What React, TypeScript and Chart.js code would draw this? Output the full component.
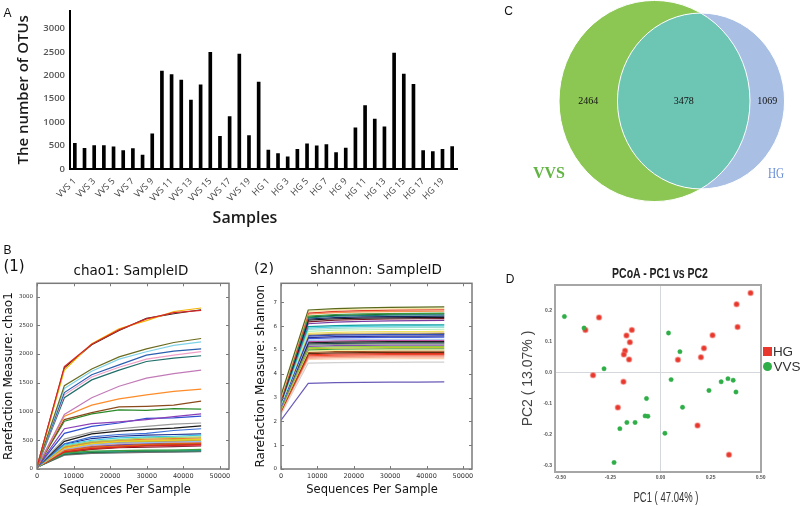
import React, { useEffect, useRef } from 'react';
import { Chart, registerables } from 'chart.js';

Chart.register(...registerables);

// ---------- Panel A : OTU counts per sample ----------
const sampleLabels = [
  'VVS 1', 'VVS 2', 'VVS 3', 'VVS 4', 'VVS 5', 'VVS 6', 'VVS 7', 'VVS 8', 'VVS 9', 'VVS 10',
  'VVS 11', 'VVS 12', 'VVS 13', 'VVS 14', 'VVS 15', 'VVS 16', 'VVS 17', 'VVS 18', 'VVS 19', 'VVS 20',
  'HG 1', 'HG 2', 'HG 3', 'HG 4', 'HG 5', 'HG 6', 'HG 7', 'HG 8', 'HG 9', 'HG 10',
  'HG 11', 'HG 12', 'HG 13', 'HG 14', 'HG 15', 'HG 16', 'HG 17', 'HG 18', 'HG 19', 'HG 20',
];
const otuCounts = [
  550, 440, 500, 500, 475, 395, 435, 295, 750, 2090,
  2015, 1900, 1470, 1795, 2490, 700, 1120, 2455, 715, 1855,
  405, 330, 260, 420, 535, 495, 520, 350, 445, 880,
  1355, 1065, 900, 2475, 2025, 1810, 395, 370, 420, 480,
];
const otuTicks = [0, 500, 1000, 1500, 2000, 2500, 3000];

// ---------- Panel B : rarefaction curves ----------
const depthSteps = [10, 7480, 14960, 22440, 29920, 37400, 44880];
const depthTicks = [0, 10000, 20000, 30000, 40000, 50000];
const chao1Ticks = [0, 500, 1000, 1500, 2000, 2500, 3000];
const shannonTicks = [0, 1, 2, 3, 4, 5, 6, 7];
const chao1Curves = [
  [40, 1780, 2170, 2420, 2610, 2720, 2760],
  [40, 1720, 2180, 2440, 2580, 2740, 2800],
  [40, 1760, 2160, 2410, 2620, 2700, 2770],
  [35, 1450, 1740, 1950, 2090, 2200, 2270],
  [35, 1400, 1700, 1910, 2040, 2150, 2210],
  [35, 1330, 1640, 1810, 1980, 2050, 2090],
  [35, 1290, 1600, 1770, 1910, 1980, 2040],
  [35, 1240, 1550, 1720, 1870, 1930, 1970],
  [30, 950, 1240, 1440, 1580, 1660, 1720],
  [30, 920, 1110, 1220, 1290, 1350, 1390],
  [30, 860, 980, 1080, 1090, 1110, 1180],
  [30, 830, 960, 1030, 1020, 1050, 1040],
  [30, 700, 790, 820, 860, 910, 960],
  [30, 620, 740, 800, 880, 890, 920],
  [30, 520, 640, 700, 740, 780, 800],
  [30, 480, 610, 660, 690, 710, 750],
  [30, 440, 560, 600, 620, 670, 700],
  [30, 420, 500, 540, 560, 570, 590],
  [30, 400, 480, 510, 540, 550, 560],
  [30, 380, 470, 500, 520, 530, 540],
  [30, 360, 440, 480, 490, 500, 510],
  [30, 370, 450, 470, 480, 490, 500],
  [30, 350, 420, 450, 460, 470, 480],
  [30, 340, 410, 440, 460, 465, 470],
  [30, 320, 380, 400, 430, 440, 450],
  [30, 300, 360, 380, 400, 410, 420],
  [30, 290, 350, 380, 410, 420, 440],
  [30, 310, 370, 390, 400, 405, 410],
  [30, 280, 310, 320, 330, 330, 340],
  [30, 270, 300, 310, 320, 325, 330],
  [30, 260, 290, 300, 310, 315, 320],
  [30, 240, 270, 280, 290, 295, 300],
  [30, 250, 280, 290, 300, 300, 305],
  [30, 330, 390, 420, 440, 450, 455],
  [30, 430, 530, 570, 590, 600, 610],
  [30, 390, 460, 490, 500, 510, 520],
  [30, 300, 380, 410, 420, 430, 430],
  [30, 360, 430, 460, 470, 475, 480],
  [30, 340, 400, 430, 450, 455, 460],
  [30, 280, 340, 370, 380, 390, 400],
];
const chao1Colors = [
  '#d62728', '#f5b400', '#3a2a1a', '#6b6b1f', '#7fd3e8', '#2b5fb0', '#f0a0c8', '#1f6f6a',
  '#c27bb8', '#ff8c2a', '#8b4a1c', '#2a8a2a', '#8a3fb8', '#3050d0', '#9a9a9a', '#1a1a1a',
  '#3a6fd8', '#3ec8e8', '#9ed36a', '#f08030', '#f0d020', '#a8a040', '#90c0f0', '#f09080',
  '#e06010', '#e02020', '#a05020', '#e070a0', '#40a040', '#20a0a0', '#206020', '#707070',
  '#30c0d0', '#7050b0', '#203090', '#b8d840', '#c03030', '#b090e0', '#d0b080', '#801818',
];
const shannonCurves = [
  [3.1, 6.68, 6.74, 6.77, 6.79, 6.8, 6.81],
  [3.0, 6.62, 6.68, 6.71, 6.73, 6.74, 6.75],
  [2.9, 6.55, 6.62, 6.65, 6.67, 6.68, 6.69],
  [3.0, 6.5, 6.57, 6.6, 6.61, 6.62, 6.63],
  [2.95, 6.42, 6.49, 6.52, 6.53, 6.54, 6.55],
  [2.9, 6.35, 6.42, 6.44, 6.46, 6.47, 6.47],
  [2.85, 6.3, 6.36, 6.39, 6.4, 6.41, 6.42],
  [2.9, 6.25, 6.31, 6.34, 6.35, 6.36, 6.37],
  [2.8, 6.18, 6.25, 6.28, 6.3, 6.31, 6.32],
  [2.85, 6.1, 6.17, 6.2, 6.22, 6.23, 6.24],
  [2.8, 5.98, 6.02, 6.04, 6.05, 6.05, 6.06],
  [2.75, 5.92, 5.97, 5.99, 6.0, 6.01, 6.01],
  [2.8, 5.86, 5.91, 5.93, 5.94, 5.95, 5.95],
  [2.7, 5.78, 5.83, 5.85, 5.86, 5.86, 5.87],
  [2.75, 5.7, 5.74, 5.76, 5.77, 5.77, 5.78],
  [2.7, 5.65, 5.69, 5.7, 5.71, 5.71, 5.72],
  [2.65, 5.58, 5.62, 5.63, 5.64, 5.64, 5.65],
  [2.7, 5.52, 5.56, 5.57, 5.58, 5.58, 5.59],
  [2.65, 5.48, 5.51, 5.52, 5.53, 5.53, 5.54],
  [2.6, 5.4, 5.43, 5.44, 5.45, 5.45, 5.45],
  [2.65, 5.3, 5.33, 5.34, 5.35, 5.35, 5.35],
  [2.6, 5.25, 5.28, 5.29, 5.3, 5.3, 5.3],
  [2.55, 5.2, 5.23, 5.24, 5.25, 5.25, 5.25],
  [2.6, 5.15, 5.18, 5.19, 5.2, 5.2, 5.2],
  [2.55, 5.1, 5.13, 5.14, 5.15, 5.15, 5.15],
  [2.5, 5.05, 5.08, 5.09, 5.1, 5.1, 5.1],
  [2.55, 5.0, 5.03, 5.04, 5.05, 5.05, 5.05],
  [2.5, 4.95, 4.98, 4.99, 5.0, 5.0, 5.0],
  [2.45, 4.9, 4.93, 4.94, 4.95, 4.95, 4.95],
  [2.5, 4.85, 4.88, 4.89, 4.9, 4.9, 4.9],
  [2.45, 4.8, 4.83, 4.84, 4.85, 4.85, 4.85],
  [2.4, 4.75, 4.78, 4.79, 4.8, 4.8, 4.8],
  [2.45, 4.7, 4.73, 4.74, 4.75, 4.75, 4.75],
  [2.4, 4.65, 4.68, 4.69, 4.7, 4.7, 4.7],
  [2.35, 4.6, 4.62, 4.63, 4.63, 4.64, 4.64],
  [2.3, 4.45, 4.47, 4.48, 4.48, 4.49, 4.49],
  [2.05, 3.6, 3.63, 3.64, 3.65, 3.65, 3.66],
  [2.9, 6.38, 6.45, 6.48, 6.5, 6.51, 6.52],
  [2.7, 5.62, 5.66, 5.67, 5.68, 5.68, 5.69],
  [2.6, 5.35, 5.38, 5.39, 5.4, 5.4, 5.4],
];
const shannonColors = [
  '#5a6a1a', '#f3e3a0', '#e0402a', '#f59050', '#3a9a3a', '#1a7a7a', '#1a2a6a', '#1a1a1a',
  '#7a1a2a', '#7a3aa0', '#10a0a0', '#50d0e0', '#a0e0d0', '#b0f0c0', '#f0e060', '#d8b878',
  '#3050c0', '#303090', '#4060e0', '#a0c0f0', '#202020', '#205050', '#909090', '#8050b0',
  '#90d040', '#c0c030', '#40a040', '#f8f0a0', '#a05020', '#603010', '#e03020', '#f05030',
  '#f08070', '#f8b090', '#fcd0b0', '#d0d0d0', '#6a5ab8', '#1a5a1a', '#1a2040', '#c050a0',
];

// ---------- Panel C : Venn diagram ----------
const vennNames = ['VVS', 'HG'];
const vennOnlyCounts = [2464, 1069];
const vennSharedCount = 3478;
const vennColors = ['#8cc653', '#a9bfe4', '#6dc5b3'];

// ---------- Panel D : PCoA ----------
const hgPC1 = [-0.307, -0.375, -0.17, -0.143, -0.153, -0.177, -0.183, -0.157, -0.337, -0.185,
  -0.213, 0.45, 0.38, 0.385, 0.26, 0.217, 0.202, 0.087, 0.185, 0.342];
const hgPC2 = [0.177, 0.137, 0.119, 0.137, 0.097, 0.07, 0.058, 0.042, -0.009, -0.03,
  -0.113, 0.256, 0.22, 0.146, 0.12, 0.078, 0.049, 0.041, -0.171, -0.265];
const vvsPC1 = [-0.48, -0.382, -0.282, -0.07, -0.077, -0.063, -0.168, -0.127, -0.203, -0.232,
  0.022, 0.04, 0.097, 0.053, 0.11, 0.242, 0.303, 0.337, 0.363, 0.377];
const vvsPC2 = [0.18, 0.143, 0.012, -0.084, -0.14, -0.141, -0.161, -0.161, -0.181, -0.29,
  -0.196, 0.127, 0.067, -0.023, -0.112, -0.058, -0.03, -0.02, -0.025, -0.063];
const pc1Ticks = [-0.5, -0.25, 0, 0.25, 0.5];
const pc2Ticks = [-0.3, -0.2, -0.1, 0, 0.1, 0.2];

const fixedTicks = (vals: number[]) => (s: any) => {
  s.ticks = vals.map((v) => ({ value: v }));
};

function framePlugin(color: string, width: number, tickLen: number) {
  return {
    id: 'frame',
    afterDatasetsDraw(chart: any) {
      const { ctx, chartArea: a } = chart;
      const sx = chart.scales.x;
      const sy = chart.scales.y;
      ctx.save();
      ctx.strokeStyle = color;
      if (tickLen > 0) {
        ctx.lineWidth = 1;
        ctx.beginPath();
        sx.ticks.forEach((t: any) => {
          const p = Math.round(sx.getPixelForValue(t.value)) + 0.5;
          ctx.moveTo(p, a.bottom);
          ctx.lineTo(p, a.bottom - tickLen);
          ctx.moveTo(p, a.top);
          ctx.lineTo(p, a.top + tickLen);
        });
        sy.ticks.forEach((t: any) => {
          const p = Math.round(sy.getPixelForValue(t.value)) + 0.5;
          ctx.moveTo(a.left, p);
          ctx.lineTo(a.left + tickLen, p);
          ctx.moveTo(a.right, p);
          ctx.lineTo(a.right - tickLen, p);
        });
        ctx.stroke();
      }
      ctx.lineWidth = width;
      ctx.strokeRect(a.left, a.top, a.right - a.left, a.bottom - a.top);
      ctx.restore();
    },
  };
}

const vennPlugin = {
  id: 'venn',
  beforeDatasetsDraw(chart: any) {
    const { ctx } = chart;
    const sx = chart.scales.x;
    const sy = chart.scales.y;
    const ds = chart.data.datasets[0].data as any[];
    const ell = (c: any) => {
      const cx = sx.getPixelForValue(c.x);
      const cy = sy.getPixelForValue(c.y);
      const rx = sx.getPixelForValue(c.x + c.r) - cx;
      const ry = cy - sy.getPixelForValue(c.y + c.r);
      ctx.beginPath();
      ctx.ellipse(cx, cy, rx, ry, 0, 0, Math.PI * 2);
    };
    ctx.save();
    ell(ds[0]); ctx.fillStyle = vennColors[0]; ctx.fill();
    ell(ds[1]); ctx.fillStyle = vennColors[1]; ctx.fill();
    ctx.save();
    ell(ds[0]); ctx.clip();
    ell(ds[1]); ctx.fillStyle = vennColors[2]; ctx.fill();
    ctx.restore();
    ctx.strokeStyle = '#ffffff';
    ctx.lineWidth = 1;
    ell(ds[0]); ctx.stroke();
    ell(ds[1]); ctx.stroke();
    const leftA = ds[0].x - ds[0].r, rightA = ds[0].x + ds[0].r;
    const leftB = ds[1].x - ds[1].r, rightB = ds[1].x + ds[1].r;
    const yPx = sy.getPixelForValue(ds[0].y);
    ctx.fillStyle = '#111';
    ctx.font = '10px "Liberation Serif"';
    ctx.textAlign = 'center';
    ctx.textBaseline = 'middle';
    ctx.fillText(String(ds[0].only), sx.getPixelForValue((leftA + leftB) / 2), yPx);
    ctx.fillText(String(vennSharedCount), sx.getPixelForValue((leftB + rightA) / 2), yPx);
    ctx.fillText(String(ds[1].only), sx.getPixelForValue((rightA + rightB) / 2), yPx);
    ctx.restore();
  },
};

function lensArea(d: number, r1: number, r2: number) {
  if (d >= r1 + r2) return 0;
  if (d <= Math.abs(r1 - r2)) return Math.PI * Math.min(r1, r2) ** 2;
  const a1 = Math.acos((d * d + r1 * r1 - r2 * r2) / (2 * d * r1));
  const a2 = Math.acos((d * d + r2 * r2 - r1 * r1) / (2 * d * r2));
  const k = Math.sqrt((-d + r1 + r2) * (d + r1 - r2) * (d - r1 + r2) * (d + r1 + r2));
  return r1 * r1 * a1 + r2 * r2 * a2 - 0.5 * k;
}

const Txt = (p: any) => (
  <div
    style={{
      position: 'absolute',
      left: p.x,
      top: p.y,
      transform: `translate(-50%, -50%) scaleX(${p.sx ?? 1})`,
      fontSize: p.s,
      fontFamily: p.f ?? '"Liberation Sans", Arial, sans-serif',
      fontWeight: p.w ?? 'normal',
      color: p.c ?? '#111',
      whiteSpace: 'nowrap',
      lineHeight: 1,
    }}
  >
    {p.children}
  </div>
);

export default function App() {
  const aRef = useRef<HTMLCanvasElement>(null);
  const b1Ref = useRef<HTMLCanvasElement>(null);
  const b2Ref = useRef<HTMLCanvasElement>(null);
  const cRef = useRef<HTMLCanvasElement>(null);
  const dRef = useRef<HTMLCanvasElement>(null);

  useEffect(() => {
    const charts: Chart[] = [];
    const noPlug = { legend: { display: false }, tooltip: { enabled: false }, title: { display: false } };

    // Panel A
    charts.push(new Chart(aRef.current!, {
      type: 'bar',
      data: {
        labels: sampleLabels,
        datasets: [{ data: otuCounts, backgroundColor: '#000', barThickness: 3 }],
      },
      options: {
        animation: false,
        responsive: false,
        layout: { padding: { top: 5, right: 23, left: 0, bottom: 0 } },
        plugins: noPlug as any,
        scales: {
          x: {
            grid: { display: false, drawTicks: false },
            border: { display: true, color: '#000', width: 2 },
            ticks: {
              autoSkip: false, minRotation: 45, maxRotation: 45, padding: 7,
              font: { family: '"Open Sans"', size: 9 }, color: '#444',
              callback: (_v: any, i: number) => (i % 2 === 0 ? sampleLabels[i] : ''),
            },
            afterFit: (s: any) => { s.height = 63; },
          },
          y: {
            min: 0, max: 3380,
            grid: { display: false, drawTicks: false },
            border: { display: true, color: '#000', width: 2 },
            afterBuildTicks: fixedTicks(otuTicks),
            ticks: {
              padding: 5,
              font: { family: '"Open Sans"', size: 9.5, weight: '600' }, color: '#555',
              callback: (v: any) => String(v),
            },
            title: {
              display: true, text: 'The number of OTUs', color: '#1a1a1a',
              font: { family: '"Open Sans"', size: 15, weight: '600' },
              padding: { top: 15, bottom: 0 },
            },
            afterFit: (s: any) => { s.width = 70; },
          },
        },
      } as any,
    }));

    const bX = {
      type: 'linear', min: 0, max: 52500,
      grid: { display: false, drawTicks: false },
      border: { display: false },
      afterBuildTicks: fixedTicks(depthTicks),
      ticks: {
        padding: 3, maxRotation: 0, autoSkip: false,
        font: { family: '"DejaVu Sans"', size: 6.5 }, color: '#333',
        callback: (v: any) => String(v),
      },
      afterFit: (s: any) => { s.height = 37; },
    };
    const mkLines = (curves: number[][], colors: string[]) => curves.map((c, i) => ({
      data: c.map((v, j) => ({ x: depthSteps[j], y: v })),
      borderColor: colors[i], borderWidth: 1.2, pointRadius: 0, fill: false, tension: 0,
    }));

    // Panel B1
    charts.push(new Chart(b1Ref.current!, {
      type: 'line',
      data: { datasets: mkLines(chao1Curves, chao1Colors) },
      options: {
        animation: false,
        responsive: false,
        layout: { padding: { top: 6, right: 11, left: 0, bottom: 0 } },
        plugins: noPlug as any,
        scales: {
          x: bX,
          y: {
            min: 0, max: 3230,
            grid: { display: false, drawTicks: false },
            border: { display: false },
            afterBuildTicks: fixedTicks(chao1Ticks),
            ticks: {
              padding: 4,
              font: { family: '"DejaVu Sans"', size: 5.5 }, color: '#333',
              callback: (v: any) => String(v),
            },
            title: {
              display: true, text: 'Rarefaction Measure: chao1', color: '#111',
              font: { family: '"DejaVu Sans"', size: 12 }, padding: { top: 2, bottom: 0 },
            },
            afterFit: (s: any) => { s.width = 37; },
          },
        },
      } as any,
      plugins: [framePlugin('#7a7a7a', 1.5, 3)],
    }));

    // Panel B2
    charts.push(new Chart(b2Ref.current!, {
      type: 'line',
      data: { datasets: mkLines(shannonCurves, shannonColors) },
      options: {
        animation: false,
        responsive: false,
        layout: { padding: { top: 7, right: 12, left: 0, bottom: 0 } },
        plugins: noPlug as any,
        scales: {
          x: bX,
          y: {
            min: 0, max: 7.8,
            grid: { display: false, drawTicks: false },
            border: { display: false },
            afterBuildTicks: fixedTicks(shannonTicks),
            ticks: {
              padding: 4,
              font: { family: '"DejaVu Sans"', size: 5.5 }, color: '#333',
              callback: (v: any) => String(v),
            },
            title: {
              display: true, text: 'Rarefaction Measure: shannon', color: '#111',
              font: { family: '"DejaVu Sans"', size: 12 }, padding: { top: 10, bottom: 0 },
            },
            afterFit: (s: any) => { s.width = 37; },
          },
        },
      } as any,
      plugins: [framePlugin('#7a7a7a', 1.5, 3)],
    }));

    // Panel C : area-proportional Venn
    const totA = vennOnlyCounts[0] + vennSharedCount;
    const totB = vennOnlyCounts[1] + vennSharedCount;
    const rA = Math.sqrt(totA / Math.PI);
    const rB = Math.sqrt(totB / Math.PI);
    let lo = Math.abs(rA - rB), hi = rA + rB;
    for (let i = 0; i < 80; i++) {
      const m = (lo + hi) / 2;
      if (lensArea(m, rA, rB) > vennSharedCount) lo = m; else hi = m;
    }
    const dist = (lo + hi) / 2;
    const ppu = 95.5 / rA;
    const ppuY = ppu * 1.053;
    charts.push(new Chart(cRef.current!, {
      type: 'scatter',
      data: {
        datasets: [{
          data: [
            { x: 0, y: 0, r: rA, only: vennOnlyCounts[0], name: vennNames[0] },
            { x: dist, y: 0, r: rB, only: vennOnlyCounts[1], name: vennNames[1] },
          ],
          pointRadius: 0,
        }],
      },
      options: {
        animation: false,
        responsive: false,
        layout: { padding: 0 },
        plugins: noPlug as any,
        scales: {
          x: { display: false, min: -154.5 / ppu, max: 145.5 / ppu },
          y: { display: false, min: -129 / ppuY, max: 101 / ppuY },
        },
      } as any,
      plugins: [vennPlugin],
    }));

    // Panel D
    const zeroGrid = {
      drawTicks: false,
      color: (c: any) => (c.tick && Math.abs(c.tick.value) < 1e-9 ? '#d4d8dc' : 'rgba(0,0,0,0)'),
      lineWidth: 1,
    };
    charts.push(new Chart(dRef.current!, {
      type: 'scatter',
      data: {
        datasets: [
          {
            label: 'VVS',
            data: vvsPC1.map((v, i) => ({ x: v, y: vvsPC2[i] })),
            backgroundColor: '#2fae48', borderColor: 'rgba(47,174,72,0.4)', borderWidth: 1,
            pointRadius: 2.2,
          },
          {
            label: 'HG',
            data: hgPC1.map((v, i) => ({ x: v, y: hgPC2[i] })),
            backgroundColor: '#e8372c', borderColor: 'rgba(240,110,100,0.5)', borderWidth: 1.5,
            pointRadius: 2.5,
          },
        ],
      },
      options: {
        animation: false,
        responsive: false,
        layout: { padding: { top: 23, right: 39, left: 0, bottom: 0 } },
        plugins: noPlug as any,
        scales: {
          x: {
            type: 'linear', min: -0.527, max: 0.502,
            grid: zeroGrid,
            border: { display: false },
            afterBuildTicks: fixedTicks(pc1Ticks),
            ticks: {
              padding: 3, maxRotation: 0,
              font: { family: '"Liberation Sans"', size: 5, weight: 'bold' }, color: '#555',
              callback: (v: any) => Number(v).toFixed(2),
            },
            afterFit: (s: any) => { s.height = 34; },
          },
          y: {
            min: -0.3206, max: 0.2816,
            grid: zeroGrid,
            border: { display: false },
            afterBuildTicks: fixedTicks(pc2Ticks),
            ticks: {
              padding: 3,
              font: { family: '"Liberation Sans"', size: 5, weight: 'bold' }, color: '#555',
              callback: (v: any) => Number(v).toFixed(1),
            },
            title: {
              display: true, text: 'PC2 ( 13.07% )', color: '#444',
              font: { family: '"Liberation Sans"', size: 14 }, padding: { top: 19.6, bottom: 0 },
            },
            afterFit: (s: any) => { s.width = 55; },
          },
        },
      } as any,
      plugins: [framePlugin('#a6a6a6', 2, 0)],
    }));

    return () => charts.forEach((c) => c.destroy());
  }, []);

  const cv = (left: number, top: number) => ({ position: 'absolute' as const, left, top });

  return (
    <div style={{ position: 'absolute', left: 0, top: 0, width: 800, height: 506, background: '#fff', overflow: 'hidden' }}>
      <canvas ref={aRef} width={480} height={232} style={cv(0, 0)} />
      <canvas ref={b1Ref} width={240} height={230} style={cv(0, 276)} />
      <canvas ref={b2Ref} width={240} height={230} style={cv(244, 276)} />
      <canvas ref={cRef} width={300} height={230} style={cv(500, 0)} />
      <canvas ref={dRef} width={300} height={244} style={cv(500, 262)} />

      <Txt x={7.5} y={12.5} s={12}>A</Txt>
      <Txt x={245} y={217} s={16} f='"Open Sans", sans-serif' w={600} c="#1a1a1a">Samples</Txt>

      <Txt x={7.5} y={250} s={12}>B</Txt>
      <Txt x={14} y={265.5} s={15} f='"DejaVu Sans", sans-serif'>(1)</Txt>
      <Txt x={131} y={271} s={13.5} f='"DejaVu Sans", sans-serif'>chao1: SampleID</Txt>
      <Txt x={125} y={490} s={11.5} f='"DejaVu Sans", sans-serif'>Sequences Per Sample</Txt>
      <Txt x={264} y={267.5} s={14} f='"DejaVu Sans", sans-serif'>(2)</Txt>
      <Txt x={376} y={270} s={13.5} f='"DejaVu Sans", sans-serif'>shannon: SampleID</Txt>
      <Txt x={372} y={490} s={11.5} f='"DejaVu Sans", sans-serif'>Sequences Per Sample</Txt>

      <Txt x={508.5} y={11} s={12}>C</Txt>
      <Txt x={549} y={173} s={16} w="bold" f='"Liberation Serif", serif' c="#62b443">VVS</Txt>
      <Txt x={776} y={174} s={14} sx={0.8} f='"Liberation Serif", serif' c="#6b8fd6">HG</Txt>

      <Txt x={510} y={279} s={12}>D</Txt>
      <Txt x={660} y={272} s={15} w="bold" sx={0.7} c="#222">PCoA - PC1 vs PC2</Txt>
      <Txt x={666} y={497} s={14} sx={0.68} c="#333">PC1 ( 47.04% )</Txt>
      <div style={{ position: 'absolute', left: 763, top: 347, width: 9, height: 9, background: '#e8372c' }} />
      <Txt x={783} y={351.5} s={13.5} c="#333">HG</Txt>
      <div style={{ position: 'absolute', left: 763, top: 361.5, width: 9, height: 9, borderRadius: '50%', background: '#2fae48' }} />
      <Txt x={787} y={366.5} s={13.5} c="#333">VVS</Txt>
    </div>
  );
}
